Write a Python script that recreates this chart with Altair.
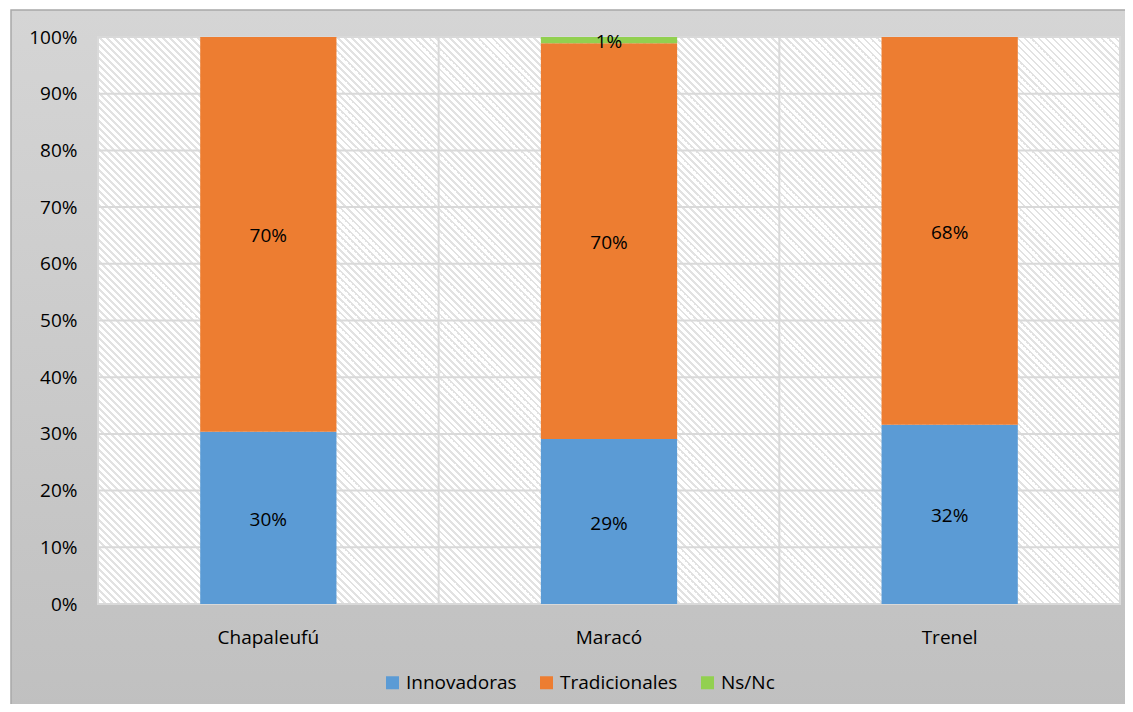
import math
import altair as alt
import pandas as pd

categories = ["Chapaleufú", "Maracó", "Trenel"]
series = ["Innovadoras", "Tradicionales", "Ns/Nc"]
innovadoras = [0.304, 0.291, 0.316]
tradicionales = [0.696, 0.698, 0.684]
nsnc = [0.0, 0.011, 0.0]
y_ticks = [0.0, 0.1, 0.2, 0.3, 0.4, 0.5, 0.6, 0.7, 0.8, 0.9, 1.0]
colors = ["#5b9bd5", "#ed7d31", "#92d050"]

W, H = 1022, 567
PL, PT, PR, PB = 90, 29, 5, 100
FONT = "Open Sans"
FS = 19

rows = []
for i, c in enumerate(categories):
    base = 0.0
    for j, (s, vals) in enumerate(zip(series, [innovadoras, tradicionales, nsnc])):
        v = vals[i]
        rows.append(dict(cat=c, serie=s, order=j, y0=base, y1=base + v,
                         mid=base + v / 2, value=v))
        base += v
df = pd.DataFrame(rows)
df_lab = df[df["value"] > 0]
df_grid = pd.DataFrame({"t": y_ticks})
df_sep = pd.DataFrame({"cat": categories[1:]})
one = pd.DataFrame({"a": [0]})

# diagonal hatch for the plot area, built as a striped linear gradient
period = 7 / math.sqrt(2)
length = (W + H) / math.sqrt(2)
duty = 0.38
stops = []
k = 0
while k * period < length:
    a = k * period / length
    b = min((k * period + duty * period) / length, 1.0)
    stops += [alt.GradientStop(color="#ffffff", offset=a),
              alt.GradientStop(color="#e2e2e2", offset=a),
              alt.GradientStop(color="#e2e2e2", offset=b),
              alt.GradientStop(color="#ffffff", offset=b)]
    k += 1
den = W * W + H * H
hatch = alt.Gradient(gradient="linear", stops=stops,
                     x1=0, y1=1, x2=(W + H) * W / den, y2=1 - (W + H) * H / den)

xscale = alt.Scale(domain=categories, paddingInner=0.6, paddingOuter=0.3)
yscale = alt.Scale(domain=[0, 1], nice=False)

xaxis = alt.Axis(labelAngle=0, ticks=False, domain=False, grid=False,
                 labelPadding=24, labelFontSize=FS, labelFont=FONT,
                 labelColor="#000000", zindex=1, title=None)
yaxis = alt.Axis(values=y_ticks, format=".0%", ticks=False, domain=False,
                 grid=False, labelPadding=21, labelFontSize=FS,
                 labelFont=FONT, labelColor="#000000", zindex=1, title=None)

bg = alt.Chart(one).mark_rect(
    fill=alt.Gradient(
        gradient="linear",
        stops=[alt.GradientStop(color="#d5d5d5", offset=0),
               alt.GradientStop(color="#c0c0c0", offset=1)],
        x1=0, x2=0, y1=0, y2=1),
    stroke="#a8a8a8", strokeWidth=1.5,
).encode(x=alt.value(-PL + 3), x2=alt.value(W + PR + 6),
         y=alt.value(-PT + 2), y2=alt.value(H + PB + 6))

plot_bg = alt.Chart(one).mark_rect(fill=hatch, stroke="#dadada", strokeWidth=2).encode(
    x=alt.value(0), x2=alt.value(W), y=alt.value(0), y2=alt.value(H))

grid = alt.Chart(df_grid).mark_rule(color="#d9d9d9", strokeWidth=2).encode(
    y=alt.Y("t:Q", scale=yscale, axis=yaxis))

sep = alt.Chart(df_sep).mark_rule(color="#d9d9d9", strokeWidth=2,
                                  xOffset=-W / 6).encode(
    x=alt.X("cat:N", scale=xscale, axis=xaxis))

bars = alt.Chart(df).mark_bar().encode(
    x=alt.X("cat:N", scale=xscale, sort=categories, axis=xaxis),
    y=alt.Y("y0:Q", scale=yscale, axis=yaxis),
    y2="y1:Q",
    color=alt.Color("serie:N", scale=alt.Scale(domain=series, range=colors),
                    legend=alt.Legend(title=None, orient="none", direction="horizontal",
                                      legendX=285, legendY=636, symbolType="square",
                                      symbolSize=169, symbolStrokeWidth=0,
                                      labelFontSize=FS, labelFont=FONT,
                                      labelColor="#000000", columnPadding=20,
                                      labelOffset=4, symbolOpacity=1)),
    order="order:Q",
)

labels = alt.Chart(df_lab).mark_text(fontSize=FS, font=FONT, color="#000000", dy=2).encode(
    x=alt.X("cat:N", scale=xscale, axis=xaxis),
    y=alt.Y("mid:Q", scale=yscale, axis=yaxis),
    text=alt.Text("value:Q", format=".0%"),
)

chart = alt.layer(bg, plot_bg, grid, sep, bars, labels).properties(
    width=W, height=H,
    autosize=alt.AutoSizeParams(type="none"),
    padding={"left": PL, "top": PT, "right": PR, "bottom": PB},
).configure(background="#ffffff").configure_view(stroke=None)

chart.save("out.html", embed_options={"renderer": "svg", "actions": False})
